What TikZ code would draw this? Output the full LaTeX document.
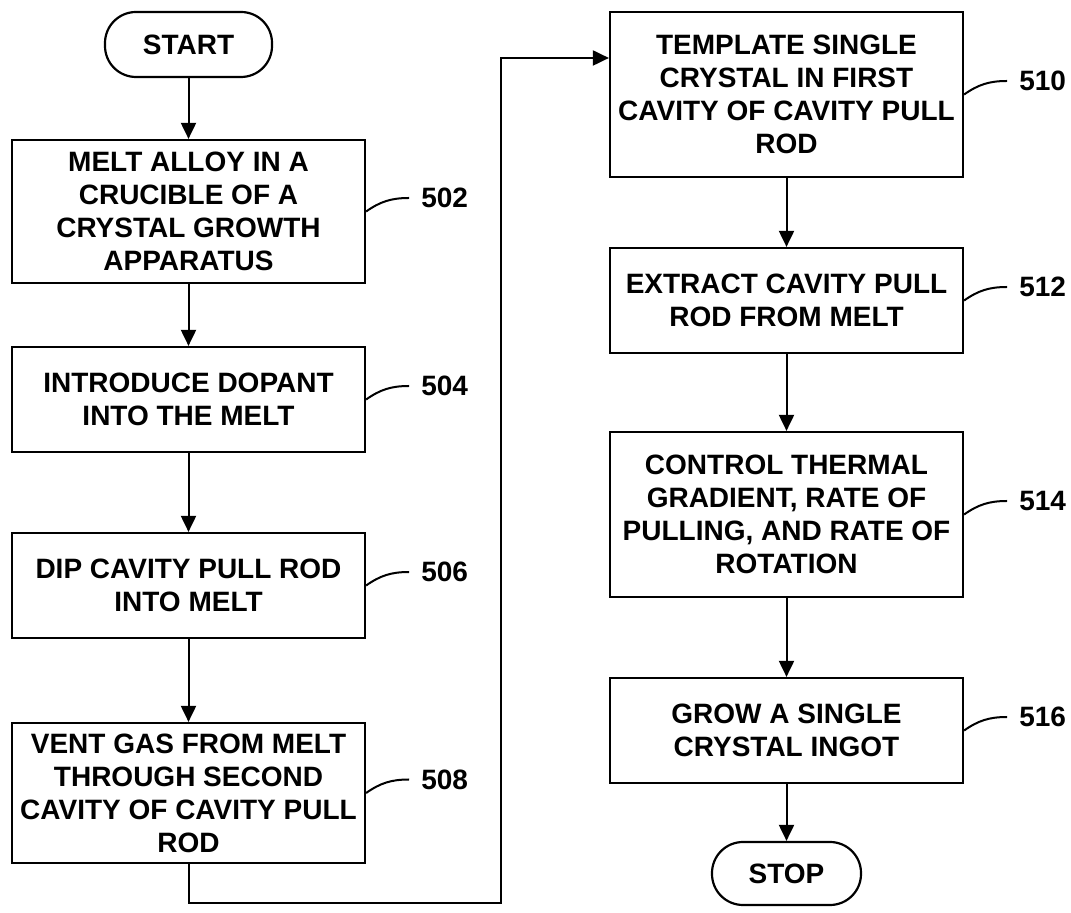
\documentclass[tikz,border=0pt]{standalone}
\usepackage{fontspec}
\setmainfont{Liberation Sans}
\usetikzlibrary{arrows.meta, positioning}

\begin{document}
\begin{tikzpicture}[x=1pt, y=1pt,
    every node/.style={font=\bfseries\fontsize{28}{33}\selectfont},
    stepbox/.style={draw, line width=2.2pt, align=center, minimum width=353pt, inner sep=0pt},
    termbox/.style={draw, line width=2.2pt, rounded corners=31pt, align=center, inner sep=0pt},
    arr/.style={line width=2pt, -{Triangle[length=16pt, width=15pt]}},
    lbl/.style={inner xsep=12pt, inner ysep=0pt},
    lead/.style={line width=2pt}
]
\useasboundingbox (0,0) rectangle (1071,913);
\node[termbox, minimum width=167pt, minimum height=65pt] (start) at (188.5,868.5) {START};
\node[stepbox, minimum height=143pt] (b502) at (188.5,701.5) {MELT ALLOY IN A\\CRUCIBLE OF A\\CRYSTAL GROWTH\\APPARATUS};
\node[stepbox, minimum height=105pt] (b504) at (188.5,513.5) {INTRODUCE DOPANT\\INTO THE MELT};
\node[stepbox, minimum height=105pt] (b506) at (188.5,327.5) {DIP CAVITY PULL ROD\\INTO MELT};
\node[stepbox, minimum height=140pt] (b508) at (188.5,120) {VENT GAS FROM MELT\\THROUGH SECOND\\CAVITY OF CAVITY PULL\\ROD};
\node[stepbox, minimum height=165pt] (b510) at (786.5,818.5) {TEMPLATE SINGLE\\CRYSTAL IN FIRST\\CAVITY OF CAVITY PULL\\ROD};
\node[stepbox, minimum height=105pt] (b512) at (786.5,612.5) {EXTRACT CAVITY PULL\\ROD FROM MELT};
\node[stepbox, minimum height=165pt] (b514) at (786.5,398.5) {CONTROL THERMAL\\GRADIENT, RATE OF\\PULLING, AND RATE OF\\ROTATION};
\node[stepbox, minimum height=105pt] (b516) at (786.5,182.5) {GROW A SINGLE\\CRYSTAL INGOT};
\node[termbox, minimum width=149pt, minimum height=63pt] (stop) at (786.5,39.5) {STOP};

\foreach \n in {502,504,506,508,510,512,514,516} {
  \node[lbl, right=43pt of b\n, yshift=13.5pt] (l\n) {\n};
  \draw[lead] (b\n.east) to[out=35, in=180] (l\n.west);
}

\coordinate (c1) at (501,10);
\draw[arr] (start) -- (b502);
\draw[arr] (b502) -- (b504);
\draw[arr] (b504) -- (b506);
\draw[arr] (b506) -- (b508);
\draw[arr] (b508.south) |- (c1) |- ([yshift=36.5pt]b510.west);
\draw[arr] (b510) -- (b512);
\draw[arr] (b512) -- (b514);
\draw[arr] (b514) -- (b516);
\draw[arr] (b516) -- (stop);
\end{tikzpicture}
\end{document}
